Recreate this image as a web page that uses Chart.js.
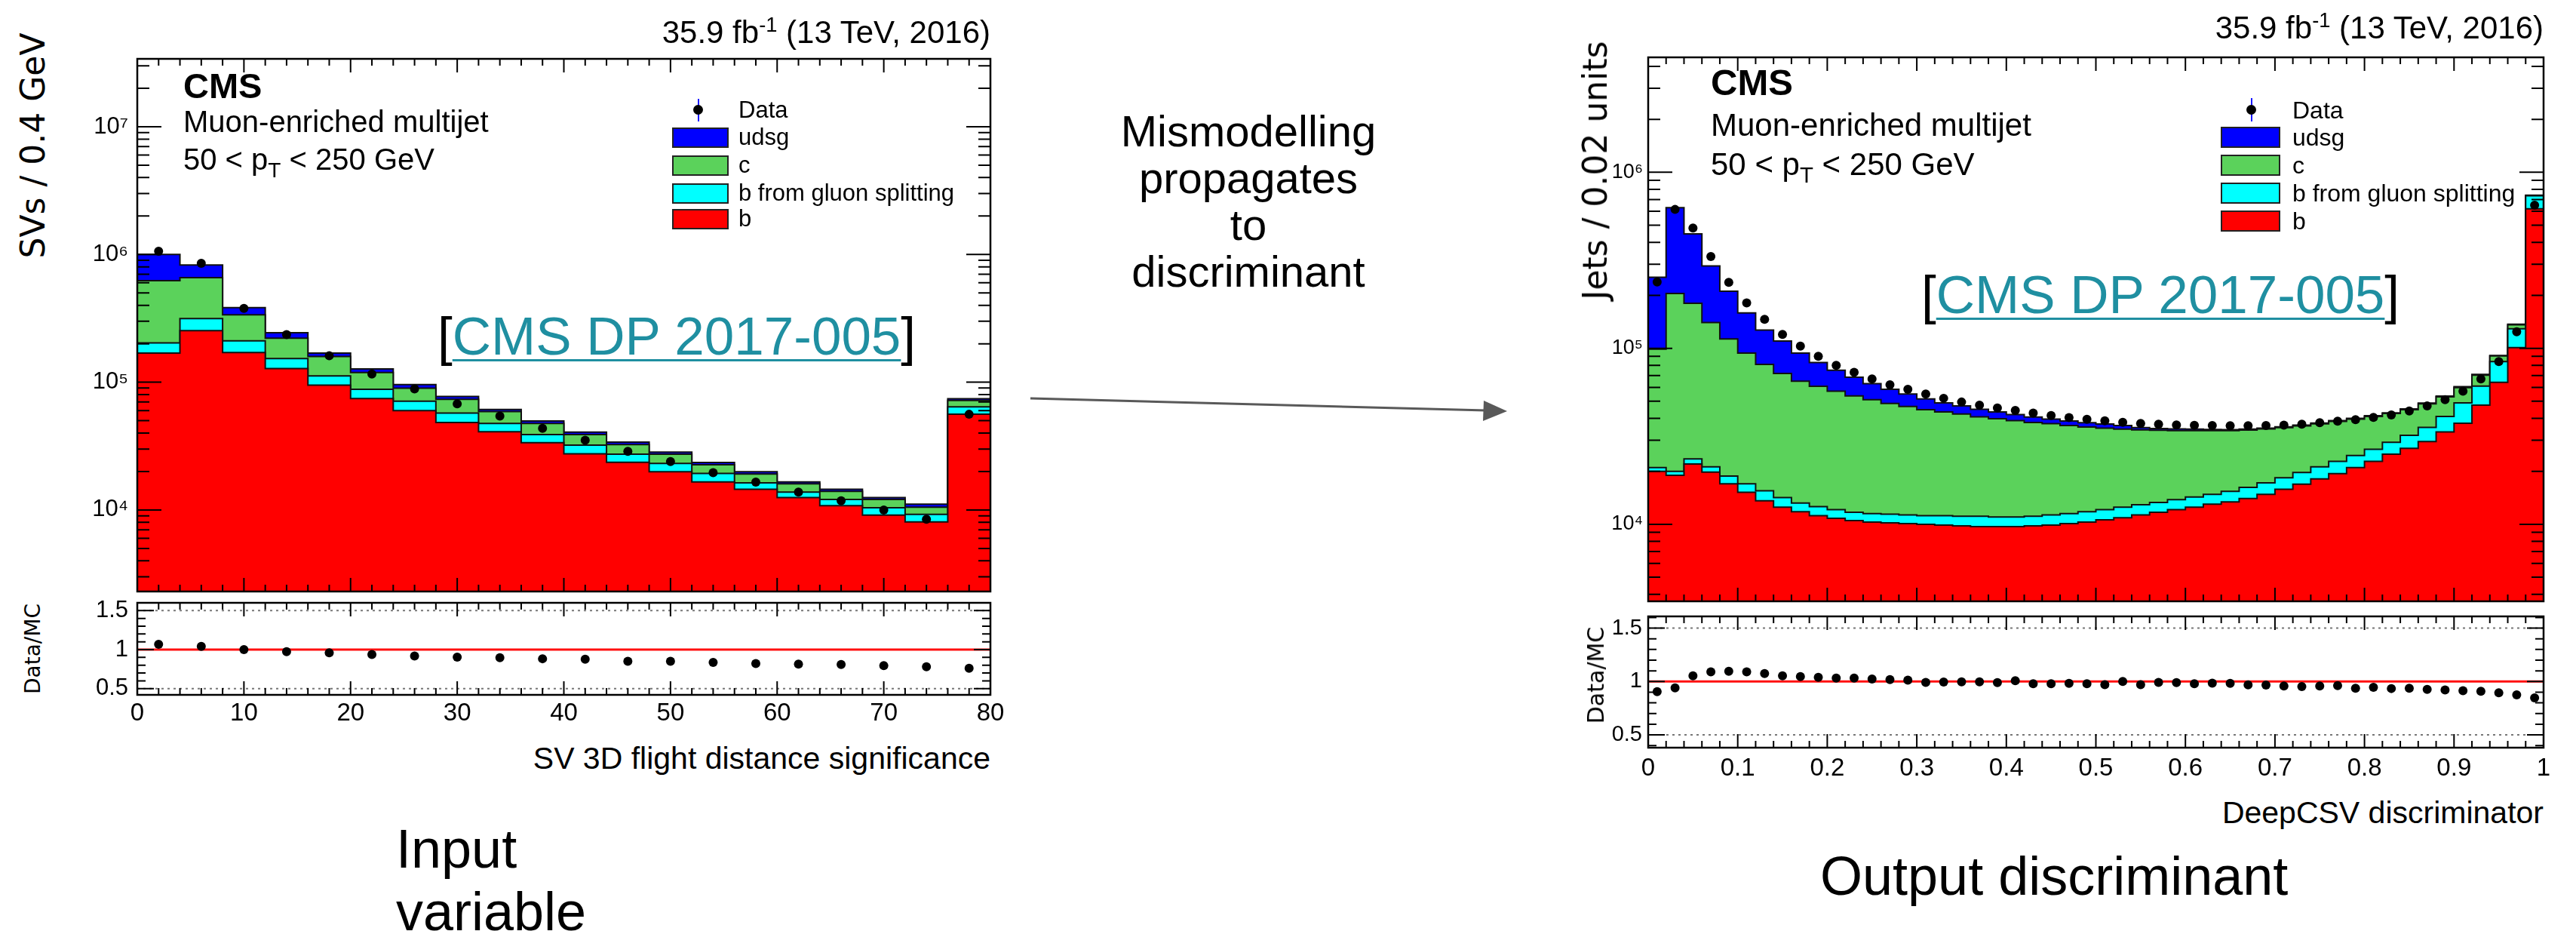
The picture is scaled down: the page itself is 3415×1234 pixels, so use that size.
<!DOCTYPE html>
<html>
<head>
<meta charset="utf-8">
<title>Input variable vs. output discriminant</title>
<script src="https://cdn.jsdelivr.net/npm/chart.js"></script>
<style>
  body { margin: 0; background: #fff; }
  #page { position: relative; width: 3415px; height: 1234px; overflow: hidden;
          font-family: 'Liberation Sans', Arial, Helvetica, sans-serif; color: #000; }
  #page canvas { position: absolute; }
  .t { position: absolute; white-space: nowrap; line-height: 1; }
  .ytitle { position: absolute; white-space: nowrap; line-height: 1;
            font-family: 'DejaVu Sans', sans-serif; transform: translate(-50%, -50%) rotate(-90deg); }
  .box { position: absolute; border: 2px solid #222; box-sizing: border-box; }
  .dot { position: absolute; width: 13px; height: 13px; border-radius: 50%; background: #000; }
  .err { position: absolute; width: 2px; background: #1a1aff; }
  .ref { color: #1f8fa1; text-decoration: underline; text-decoration-thickness: 3px; text-underline-offset: 6px; }
  sub { font-size: 70%; vertical-align: -0.35em; line-height: 0; }
  sup { font-size: 65%; vertical-align: 0.55em; line-height: 0; }
</style>
</head>
<body>
<div id="page">
  <!-- left plot: SV flight distance significance -->
  <canvas id="svMain" width="1251" height="731" style="left:82px;top:58px"></canvas>
  <canvas id="svRatio" width="1251" height="177" style="left:82px;top:789px"></canvas>

  <!-- right plot: DeepCSV discriminator -->
  <canvas id="dcMain" width="1307" height="746" style="left:2085px;top:56px"></canvas>
  <canvas id="dcRatio" width="1307" height="229" style="left:2085px;top:807px"></canvas>

  <!-- left plot labels -->
  <div class="t" style="right:2102px;top:22px;font-size:42px">35.9 fb<sup>-1</sup> (13 TeV, 2016)</div>
  <div class="ytitle" style="left:44px;top:193px;font-size:44px">SVs / 0.4 GeV</div>
  <div class="ytitle" style="left:44px;top:860px;font-size:28px">Data/MC</div>
  <div class="t" style="right:2102px;top:985px;font-size:41px">SV 3D flight distance significance</div>
  <div class="t" style="left:243px;top:90px;font-size:47px;font-weight:bold">CMS</div>
  <div class="t" style="left:243px;top:141px;font-size:40px">Muon-enriched multijet</div>
  <div class="t" style="left:243px;top:191px;font-size:40px">50 &lt; p<sub>T</sub> &lt; 250 GeV</div>
  <div class="err" style="left:925px;top:131px;height:30px"></div>
  <div class="dot" style="left:919px;top:139px"></div>
  <div class="t" style="left:979px;top:130px;font-size:31px">Data</div>
  <div class="box" style="left:891px;top:169px;width:75px;height:27px;background:#0000ff"></div>
  <div class="t" style="left:979px;top:166px;font-size:31px">udsg</div>
  <div class="box" style="left:891px;top:206px;width:75px;height:27px;background:#5bd25b"></div>
  <div class="t" style="left:979px;top:203px;font-size:31px">c</div>
  <div class="box" style="left:891px;top:243px;width:75px;height:27px;background:#00ffff"></div>
  <div class="t" style="left:979px;top:240px;font-size:31px">b from gluon splitting</div>
  <div class="box" style="left:891px;top:277px;width:75px;height:27px;background:#ff0000"></div>
  <div class="t" style="left:979px;top:274px;font-size:31px">b</div>
  <div class="t" style="left:580px;top:410px;font-size:71px">[<span class="ref">CMS DP 2017-005</span>]</div>

  <!-- right plot labels -->
  <div class="t" style="right:43px;top:16px;font-size:42px">35.9 fb<sup>-1</sup> (13 TeV, 2016)</div>
  <div class="ytitle" style="left:2115px;top:226px;font-size:44px">Jets / 0.02 units</div>
  <div class="ytitle" style="left:2116px;top:895px;font-size:30px">Data/MC</div>
  <div class="t" style="right:43px;top:1057px;font-size:41px">DeepCSV discriminator</div>
  <div class="t" style="left:2268px;top:85px;font-size:49px;font-weight:bold">CMS</div>
  <div class="t" style="left:2268px;top:145px;font-size:42px">Muon-enriched multijet</div>
  <div class="t" style="left:2268px;top:197px;font-size:42px">50 &lt; p<sub>T</sub> &lt; 250 GeV</div>
  <div class="err" style="left:2984px;top:130px;height:31px"></div>
  <div class="dot" style="left:2978px;top:139px"></div>
  <div class="t" style="left:3039px;top:130px;font-size:32px">Data</div>
  <div class="box" style="left:2944px;top:168px;width:79px;height:28px;background:#0000ff"></div>
  <div class="t" style="left:3039px;top:166px;font-size:32px">udsg</div>
  <div class="box" style="left:2944px;top:205px;width:79px;height:28px;background:#5bd25b"></div>
  <div class="t" style="left:3039px;top:203px;font-size:32px">c</div>
  <div class="box" style="left:2944px;top:242px;width:79px;height:28px;background:#00ffff"></div>
  <div class="t" style="left:3039px;top:240px;font-size:32px">b from gluon splitting</div>
  <div class="box" style="left:2944px;top:279px;width:79px;height:28px;background:#ff0000"></div>
  <div class="t" style="left:3039px;top:277px;font-size:32px">b</div>
  <div class="t" style="left:2547px;top:355px;font-size:71px">[<span class="ref">CMS DP 2017-005</span>]</div>

  <!-- slide text -->
  <div class="t" style="left:1455px;width:400px;top:143px;font-size:58px;line-height:62px;text-align:center;white-space:normal">Mismodelling<br>propagates<br>to<br>discriminant</div>
  <svg style="position:absolute;left:0;top:0" width="3415" height="1234">
    <line x1="1366" y1="528" x2="1970" y2="544" stroke="#595959" stroke-width="3"/>
    <polygon points="1998,545 1967,531 1966,558" fill="#595959"/>
  </svg>
  <div class="t" style="left:525px;top:1084px;font-size:72px;line-height:83px">Input<br>variable</div>
  <div class="t" style="left:2413px;top:1125px;font-size:72px">Output discriminant</div>
</div>

<script>
// ---- SV 3D flight distance significance (bins of 4) ----
const svEdges = [0, 4, 8, 12, 16, 20, 24, 28, 32, 36, 40, 44, 48, 52, 56, 60, 64, 68, 72, 76, 80];
const svB     = [169000, 253000, 171000, 128000, 94700, 74400, 60000, 48400, 41000, 33600, 27500, 23600, 19900, 16600, 14500, 12500, 10800, 9100, 8070, 56100];
const svBg    = [34000, 62000, 40000, 25000, 17300, 13500, 11000, 8900, 6500, 5300, 4700, 3700, 3200, 2700, 1800, 1300, 1300, 1300, 1160, 8000];
const svC     = [421000, 343000, 126000, 68000, 47000, 31100, 18800, 16100, 11400, 8600, 6700, 5200, 4200, 3300, 2800, 2200, 1900, 1700, 1270, 7900];
const svUdsg  = [376000, 168000, 46000, 23000, 10000, 8000, 6100, 4000, 2300, 2300, 1800, 1500, 1100, 900, 800, 600, 500, 400, 600, 2300];
const svData  = [1060000, 853000, 378000, 236000, 161000, 116000, 88500, 67800, 54300, 43500, 35200, 28800, 23900, 19600, 16500, 13800, 11800, 10000, 8460, 56100];
const svRatio = [1.068, 1.041, 1.0, 0.973, 0.959, 0.937, 0.918, 0.904, 0.896, 0.883, 0.877, 0.85, 0.85, 0.836, 0.822, 0.814, 0.809, 0.795, 0.781, 0.76];

// ---- DeepCSV discriminator (bins of 0.02) ----
const dcEdges = [0, 0.02, 0.04, 0.06, 0.08, 0.1, 0.12, 0.14, 0.16, 0.18, 0.2, 0.22, 0.24, 0.26, 0.28, 0.3, 0.32, 0.34, 0.36, 0.38,
                 0.4, 0.42, 0.44, 0.46, 0.48, 0.5, 0.52, 0.54, 0.56, 0.58, 0.6, 0.62, 0.64, 0.66, 0.68, 0.7, 0.72, 0.74, 0.76, 0.78,
                 0.8, 0.82, 0.84, 0.86, 0.88, 0.9, 0.92, 0.94, 0.96, 0.98, 1];
const dcB     = [20000, 19000, 22000, 19800, 17000, 15200, 13600, 12500, 11800, 11200, 10800, 10500, 10300, 10200, 10100, 10000, 9900, 9800, 9700, 9700,
                 9700, 9800, 9900, 10100, 10300, 10600, 10900, 11300, 11700, 12100, 12500, 13000, 13400, 14000, 14800, 15800, 16900, 18100, 19400, 21000,
                 22800, 25000, 27000, 29500, 33500, 37500, 47500, 64000, 101000, 620000];
const dcBg    = [1000, 1000, 1500, 1400, 1800, 1800, 1900, 1700, 1400, 1400, 1300, 1200, 1200, 1200, 1200, 1200, 1300, 1300, 1400, 1300,
                 1300, 1300, 1400, 1400, 1500, 1500, 1600, 1600, 1600, 1700, 1800, 1800, 2000, 2200, 2400, 2600, 2800, 3100, 3400, 3600,
                 3900, 4200, 5000, 6000, 7500, 11500, 13500, 20000, 28000, 115000];
const dcC     = [78000, 185000, 156500, 118800, 94200, 77000, 65500, 57800, 51800, 48200, 44900, 41900, 39500, 37200, 35400, 33600, 32300, 31200, 29700, 28800,
                 27800, 26800, 26000, 24900, 23900, 23100, 22200, 21500, 20900, 20300, 19800, 19300, 18700, 18100, 17600, 17000, 16500, 16000, 15600, 15000,
                 14300, 13400, 12800, 12900, 12000, 10800, 9300, 6500, 7000, 3000];
const dcUdsg  = [154000, 425000, 267000, 154000, 98000, 65000, 46000, 38000, 29000, 22200, 18000, 14900, 12000, 9900, 8300, 6700, 5500, 4700, 4200, 3700,
                 3200, 2800, 2300, 2200, 2100, 1900, 1700, 1000, 800, 700, 600, 500, 400, 400, 400, 400, 400, 400, 400, 400,
                 400, 400, 400, 400, 500, 700, 700, 500, 1000, 2000];
const dcData  = [238000, 615000, 482000, 332000, 237000, 181000, 146000, 120000, 103000, 90000, 80000, 73000, 67000, 62000, 58500, 55000, 52000, 49500, 47500, 45800,
                 44300, 42800, 41500, 40400, 39500, 38700, 38000, 37400, 37000, 36700, 36500, 36400, 36300, 36300, 36400, 36600, 37000, 37800, 38500, 39300,
                 40500, 41800, 44000, 47000, 51000, 57000, 67000, 84000, 124000, 650000];
const dcRatio = [0.905, 0.94, 1.053, 1.09, 1.095, 1.09, 1.074, 1.053, 1.047, 1.04, 1.032, 1.032, 1.024, 1.018, 1.013, 0.992, 0.995, 0.997, 0.997, 0.99,
                 1.008, 0.979, 0.979, 0.982, 0.979, 0.971, 1.0, 0.971, 0.992, 0.989, 0.979, 0.984, 0.982, 0.968, 0.966, 0.958, 0.953, 0.958, 0.961, 0.937,
                 0.945, 0.934, 0.937, 0.926, 0.921, 0.913, 0.908, 0.895, 0.874, 0.847];

const FONT = 'Liberation Sans';
const colB = '#ff0000', colBg = '#00ffff', colC = '#5bd25b', colUdsg = '#0000ff';

function range(a, b, step) {
  const out = [];
  for (let v = a; v <= b + step / 1000; v += step) out.push(Math.round(v * 1e6) / 1e6);
  return out;
}
function centres(edges) { return edges.slice(1).map((e, i) => (e + edges[i]) / 2); }
// running sums bottom -> top, so each histogram is the top of its stack layer
function stackTops(parts) {
  let run = parts[0].map(() => 0);
  return parts.map(p => (run = run.map((v, i) => v + p[i])));
}
function stepPoints(edges, vals) {
  return edges.map((e, i) => ({ x: e, y: vals[Math.min(i, vals.length - 1)] }));
}
const SUP = '⁰¹²³⁴⁵⁶⁷⁸⁹';
function logLabel(v) { return '10' + String(Math.round(Math.log10(v))).split('').map(d => SUP[d]).join(''); }

// fixed axis sizes, no extra padding from the tick labels
function fixAxis(size, vertical) {
  return s => {
    if (vertical) s.width = size; else s.height = size;
    s.paddingTop = s.paddingBottom = s.paddingLeft = s.paddingRight = 0;
  };
}
const noGrid = { display: false, drawTicks: false };

// ROOT style frame with ticks on all four sides pointing inwards
const rootFrame = {
  id: 'rootFrame',
  afterDatasetsDraw(chart, args, o) {
    const { ctx, chartArea: a, scales } = chart;
    const xs = scales.x, ys = scales.y;
    ctx.save();
    ctx.strokeStyle = '#000';
    ctx.lineWidth = 2;
    ctx.beginPath();
    const xt = (vals, len) => vals.forEach(v => {
      const p = xs.getPixelForValue(v);
      ctx.moveTo(p, a.bottom); ctx.lineTo(p, a.bottom - len);
      ctx.moveTo(p, a.top); ctx.lineTo(p, a.top + len);
    });
    const yt = (vals, len) => vals.forEach(v => {
      const p = ys.getPixelForValue(v);
      ctx.moveTo(a.left, p); ctx.lineTo(a.left + len, p);
      ctx.moveTo(a.right, p); ctx.lineTo(a.right - len, p);
    });
    xt(o.xMinor, o.xLen / 2); xt(o.xMajor, o.xLen);
    yt(o.yMinor, o.yLen / 2); yt(o.yMajor, o.yLen);
    ctx.stroke();
    ctx.lineWidth = 2.5;
    ctx.strokeRect(a.left, a.top, a.width, a.height);
    ctx.restore();
  }
};

function histSet(edges, vals, colour) {
  return { data: stepPoints(edges, vals), stepped: true, fill: 'start', backgroundColor: colour,
           borderColor: '#111', borderWidth: 2, pointRadius: 0 };
}

function mainChart(id, edges, parts, data, yMin, yMax, xStep, xMinorStep, fontSize, labelGap) {
  const [tb, tbg, tc, tu] = stackTops(parts);
  const mids = centres(edges);
  const decades = range(Math.ceil(Math.log10(yMin)), Math.floor(Math.log10(yMax)), 1).map(e => Math.pow(10, e));
  const minors = [];
  for (let e = Math.floor(Math.log10(yMin)); e <= Math.log10(yMax); e++)
    for (let k = 2; k <= 9; k++) { const v = k * Math.pow(10, e); if (v > yMin && v < yMax) minors.push(v); }
  const lo = edges[0], hi = edges[edges.length - 1];
  return new Chart(document.getElementById(id), {
    type: 'line',
    data: { datasets: [
      { data: mids.map((x, i) => ({ x, y: data[i] })), showLine: false, pointRadius: 6,
        pointBackgroundColor: '#000', pointBorderWidth: 0 },
      histSet(edges, tb, colB), histSet(edges, tbg, colBg), histSet(edges, tc, colC), histSet(edges, tu, colUdsg)
    ] },
    options: {
      responsive: false, animation: false, events: [],
      layout: { padding: { top: 20, right: 20, bottom: 5, left: 0 }, autoPadding: false },
      plugins: {
        legend: { display: false }, tooltip: { enabled: false },
        rootFrame: { xMajor: range(lo, hi, xStep), xMinor: range(lo, hi, xMinorStep), xLen: 18,
                     yMajor: decades, yMinor: minors, yLen: 32 }
      },
      scales: {
        x: { type: 'linear', min: lo, max: hi, display: false },
        y: { type: 'logarithmic', min: yMin, max: yMax,
             grid: noGrid, border: { display: false },
             ticks: { font: { family: FONT, size: fontSize }, color: '#000', padding: labelGap, callback: v => logLabel(v) },
             afterBuildTicks: s => { s.ticks = decades.map(v => ({ value: v })); },
             afterFit: fixAxis(100, true) }
      }
    },
    plugins: [rootFrame]
  });
}

function ratioChart(id, edges, ratio, yMin, yMax, xStep, xMinorStep, fontSize, labelGap, xLabelGap) {
  const mids = centres(edges);
  const lo = edges[0], hi = edges[edges.length - 1];
  const flat = (y, colour, width, dash) => ({ data: [{ x: lo, y }, { x: hi, y }], borderColor: colour,
    borderWidth: width, borderDash: dash, pointRadius: 0, fill: false });
  return new Chart(document.getElementById(id), {
    type: 'line',
    data: { datasets: [
      { data: mids.map((x, i) => ({ x, y: ratio[i] })), showLine: false, pointRadius: 6,
        pointBackgroundColor: '#000', pointBorderWidth: 0 },
      flat(1, '#ff1010', 3, []),
      flat(0.5, '#777', 2, [3, 5]),
      flat(1.5, '#777', 2, [3, 5])
    ] },
    options: {
      responsive: false, animation: false, events: [],
      layout: { padding: { top: 10, right: 20, bottom: 0, left: 0 }, autoPadding: false },
      plugins: {
        legend: { display: false }, tooltip: { enabled: false },
        rootFrame: { xMajor: range(lo, hi, xStep), xMinor: range(lo, hi, xMinorStep), xLen: 18,
                     yMajor: [0.5, 1, 1.5], yMinor: range(0.4, 1.6, 0.1).filter(v => v > yMin && v < yMax), yLen: 22 }
      },
      scales: {
        x: { type: 'linear', min: lo, max: hi,
             grid: noGrid, border: { display: false },
             ticks: { stepSize: xStep, autoSkip: false, maxRotation: 0, padding: xLabelGap,
                      font: { family: FONT, size: 33 }, color: '#000',
                      callback: v => String(Math.round(v * 100) / 100) },
             afterFit: fixAxis(45, false) },
        y: { type: 'linear', min: yMin, max: yMax,
             grid: noGrid, border: { display: false },
             ticks: { font: { family: FONT, size: fontSize }, color: '#000', padding: labelGap, callback: v => String(v) },
             afterBuildTicks: s => { s.ticks = [0.5, 1, 1.5].map(v => ({ value: v })); },
             afterFit: fixAxis(100, true) }
      }
    },
    plugins: [rootFrame]
  });
}

mainChart('svMain', svEdges, [svB, svBg, svC, svUdsg], svData, 2300, 3.4e7, 10, 2, 31, 12);
ratioChart('svRatio', svEdges, svRatio, 0.42, 1.6, 10, 2, 31, 12, 5);
mainChart('dcMain', dcEdges, [dcB, dcBg, dcC, dcUdsg], dcData, 3650, 4.5e6, 0.1, 0.02, 27, 7);
ratioChart('dcRatio', dcEdges, dcRatio, 0.38, 1.61, 0.1, 0.02, 29, 8, 8);
</script>
</body>
</html>
